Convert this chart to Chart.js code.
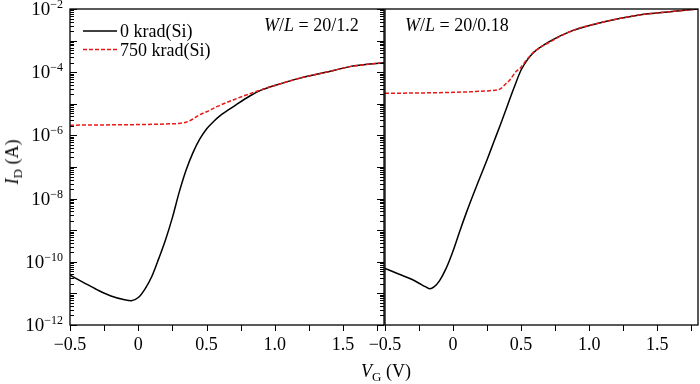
<!DOCTYPE html>
<html>
<head>
<meta charset="utf-8">
<script src="https://cdn.jsdelivr.net/npm/chart.js@4.4.0/dist/chart.umd.min.js"></script>
<style>
  html, body { margin: 0; padding: 0; background: #fff; }
  #wrap { position: relative; width: 700px; height: 384px; overflow: hidden;
          font-family: "Liberation Serif", "Times New Roman", serif; color: #000; }
  canvas { position: absolute; top: 0; }
  #left { left: 0; }
  #right { left: 360px; }
  .txt { position: absolute; font-size: 18px; line-height: 1; white-space: nowrap; }
  .ctr { transform: translate(-50%, -50%); }
  .rot { transform: translate(-50%, -50%) rotate(-90deg); }
  .sub { font-size: 13px; position: relative; top: 4px; }
</style>
</head>
<body>
<div id="wrap">
  <canvas id="left" width="386" height="384"></canvas>
  <canvas id="right" width="340" height="384"></canvas>
  <div class="txt" style="left:264px; top:16px;"><i>W</i>/<i>L</i> = 20/1.2</div>
  <div class="txt" style="left:405px; top:16px;"><i>W</i>/<i>L</i> = 20/0.18</div>
  <div class="txt rot" style="left:12px; top:162px;"><i>I</i><span class="sub">D</span> (A)</div>
  <div class="txt ctr" style="left:386px; top:371px;"><i>V</i><span class="sub">G</span> (V)</div>
</div>
<script>
// W/L = 20/1.2, 0 krad(Si)
const vgLeft0 = [-0.5, -0.4, -0.3, -0.2, -0.1, -0.05, 0, 0.05, 0.1, 0.15, 0.2, 0.25, 0.3, 0.35, 0.4, 0.45, 0.5, 0.55, 0.6, 0.7, 0.82, 0.9, 1.0, 1.185, 1.4, 1.55, 1.8];
const idLeft0 = [3.8e-11, 2.2e-11, 1.3e-11, 8.3e-12, 6.3e-12, 5.9e-12, 7.4e-12, 1.4e-11, 3.5e-11, 1.26e-10, 5.0e-10, 2.5e-9, 1.6e-8, 7.9e-8, 2.8e-7, 7.6e-7, 1.6e-6, 2.7e-6, 4.2e-6, 8.3e-6, 1.8e-5, 2.7e-5, 3.8e-5, 6.5e-5, 1.05e-4, 1.5e-4, 2.0e-4];
// W/L = 20/1.2, 750 krad(Si)
const vgLeft750 = [-0.5, -0.25, 0, 0.2, 0.3, 0.35, 0.4, 0.45, 0.5, 0.575, 0.7, 0.82, 1.0, 1.185, 1.4, 1.55, 1.8];
const idLeft750 = [2.1e-6, 2.15e-6, 2.2e-6, 2.3e-6, 2.4e-6, 2.6e-6, 3.3e-6, 4.5e-6, 5.6e-6, 8.1e-6, 1.35e-5, 2.1e-5, 3.8e-5, 6.5e-5, 1.05e-4, 1.5e-4, 2.0e-4];
// W/L = 20/0.18, 0 krad(Si)
const vgRight0 = [-0.5, -0.4, -0.3, -0.25, -0.2, -0.17, -0.14, -0.1, -0.05, 0, 0.05, 0.1, 0.15, 0.2, 0.25, 0.3, 0.35, 0.4, 0.45, 0.5, 0.55, 0.6, 0.7, 0.85, 1.12, 1.37, 1.61, 1.8];
const idRight0 = [6.2e-11, 4.1e-11, 2.75e-11, 2.1e-11, 1.6e-11, 1.4e-11, 1.6e-11, 2.5e-11, 6.3e-11, 2.2e-10, 9.5e-10, 3.8e-9, 1.4e-8, 4.9e-8, 1.7e-7, 6.3e-7, 2.3e-6, 8.9e-6, 3.4e-5, 1.17e-4, 2.6e-4, 4.5e-4, 8.9e-4, 1.86e-3, 4.0e-3, 6.5e-3, 8.3e-3, 1.0e-2];
// W/L = 20/0.18, 750 krad(Si)
const vgRight750 = [-0.5, -0.25, 0, 0.12, 0.27, 0.343, 0.39, 0.416, 0.465, 0.49, 0.55, 0.6, 0.709, 0.88, 1.12, 1.37, 1.61, 1.8];
const idRight750 = [2.15e-5, 2.2e-5, 2.3e-5, 2.4e-5, 2.6e-5, 2.9e-5, 4.4e-5, 5.6e-5, 1.07e-4, 1.3e-4, 2.75e-4, 4.6e-4, 8.9e-4, 2.1e-3, 4.0e-3, 6.5e-3, 8.3e-3, 1.0e-2];

const seriesLabels = ['0 krad(Si)', '750 krad(Si)'];
const xTicks = [-0.5, -0.25, 0, 0.25, 0.5, 0.75, 1, 1.25, 1.5, 1.75];
const xLabelTicks = [-0.5, 0, 0.5, 1.0, 1.5];
const yDecades = [-12, -11, -10, -9, -8, -7, -6, -5, -4, -3, -2];
const yLabelDecades = [-12, -10, -8, -6, -4, -2];

const fontFamily = '"Liberation Serif", "Times New Roman", serif';
const red = 'rgb(232, 24, 24)';

const toPoints = (xs, ys) => xs.map((v, i) => ({ x: v, y: ys[i] }));

const xLabel = (v) => {
  if (v === 0) return '0';
  const s = Math.abs(v).toFixed(1);
  return v < 0 ? '\u2212' + s : s;
};

// frame, ticks, tick labels and legend
const decor = {
  id: 'decor',
  afterDraw(chart, args, opts) {
    const { ctx, chartArea: a } = chart;
    const x = chart.scales.x, y = chart.scales.y;
    ctx.save();
    ctx.strokeStyle = '#000';
    ctx.lineWidth = 1.3;
    ctx.strokeRect(a.left, a.top, a.right - a.left, a.bottom - a.top);

    ctx.lineWidth = 1;
    ctx.beginPath();
    xTicks.forEach(v => {
      const px = Math.round(x.getPixelForValue(v)) + 0.5;
      ctx.moveTo(px, a.bottom);
      ctx.lineTo(px, a.bottom + 6);
    });
    const sides = [];
    if (opts.leftTicks) sides.push([a.left, 1]);
    if (opts.rightTicks) sides.push([a.right, -1]);
    sides.forEach(([x0, dir]) => {
      yDecades.forEach(d => {
        const py = Math.round(y.getPixelForValue(Math.pow(10, d))) + 0.5;
        ctx.moveTo(x0, py);
        ctx.lineTo(x0 + dir * 7, py);
        if (d < -2) {
          for (let m = 2; m < 10; m++) {
            const pm = Math.round(y.getPixelForValue(m * Math.pow(10, d))) + 0.5;
            ctx.moveTo(x0, pm);
            ctx.lineTo(x0 + dir * 4, pm);
          }
        }
      });
    });
    ctx.stroke();

    ctx.fillStyle = '#000';
    ctx.font = '18px ' + fontFamily;
    ctx.textAlign = 'center';
    ctx.textBaseline = 'middle';
    xLabelTicks.forEach(v => {
      ctx.fillText(xLabel(v), x.getPixelForValue(v), a.bottom + 20);
    });

    ctx.textBaseline = 'alphabetic';
    ctx.textAlign = 'left';
    if (opts.yLabels) {
      yLabelDecades.forEach(d => {
        const py = y.getPixelForValue(Math.pow(10, d));
        const exp = '\u2212' + Math.abs(d);
        ctx.font = '12px ' + fontFamily;
        const we = ctx.measureText(exp).width;
        ctx.font = '19px ' + fontFamily;
        const wb = ctx.measureText('10').width;
        const xr = a.left - 7;
        ctx.fillText('10', xr - we - wb, py + 6);
        ctx.font = '12px ' + fontFamily;
        ctx.fillText(exp, xr - we, py - 1);
      });
    }

    if (opts.legend) {
      ctx.font = '18px ' + fontFamily;
      chart.data.datasets.forEach((ds, i) => {
        const ry = a.top + 22 + i * 18.5;
        ctx.strokeStyle = ds.borderColor;
        ctx.lineWidth = ds.borderWidth;
        ctx.setLineDash(ds.borderDash || []);
        ctx.beginPath();
        ctx.moveTo(a.left + 13, ry);
        ctx.lineTo(a.left + 47, ry);
        ctx.stroke();
        ctx.fillText(ds.label, a.left + 50, ry + 6);
      });
      ctx.setLineDash([]);
    }
    ctx.restore();
  }
};

function makeChart(id, xs0, ys0, xs1, ys1, padLeft, decorOpts) {
  return new Chart(document.getElementById(id), {
    type: 'line',
    data: {
      datasets: [
        { label: seriesLabels[0], data: toPoints(xs0, ys0), borderColor: '#000', borderWidth: 1.5, order: 1 },
        { label: seriesLabels[1], data: toPoints(xs1, ys1), borderColor: red, borderWidth: 1.5, borderDash: [4, 2], order: 0 },
      ],
    },
    options: {
      responsive: false,
      animation: false,
      layout: { padding: { left: padLeft, right: 2, top: 9, bottom: 59 } },
      plugins: { legend: { display: false }, tooltip: { enabled: false }, decor: decorOpts },
      elements: { point: { radius: 0 }, line: { cubicInterpolationMode: 'monotone', fill: false } },
      scales: {
        x: { type: 'linear', display: false, min: -0.5, max: 1.8 },
        y: { type: 'logarithmic', display: false, min: 1e-12, max: 1e-2 },
      },
    },
    plugins: [decor],
  });
}

makeChart('left', vgLeft0, idLeft0, vgLeft750, idLeft750, 70,
  { leftTicks: true, rightTicks: true, yLabels: true, legend: true });
makeChart('right', vgRight0, idRight0, vgRight750, idRight750, 25,
  { leftTicks: false, rightTicks: false, yLabels: false, legend: false });
</script>
</body>
</html>
